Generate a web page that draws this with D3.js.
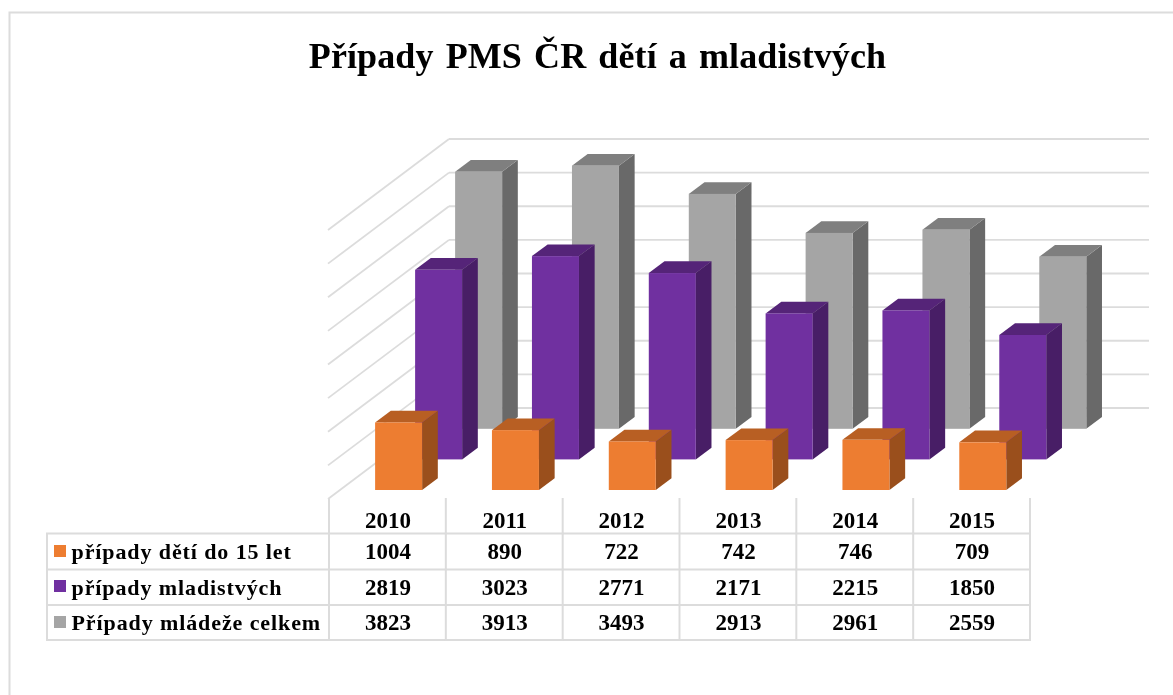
<!DOCTYPE html>
<html><head><meta charset="utf-8">
<script src="https://cdn.jsdelivr.net/npm/d3@7/dist/d3.min.js"></script>
<style>html,body{margin:0;padding:0;background:#fff}svg{display:block;filter:blur(0.4px)}</style>
</head><body><svg id="c" width="1173" height="695"></svg>
<script>
const years = ["2010","2011","2012","2013","2014","2015"];
const seriesNames = ["případy dětí do 15 let","případy mladistvých","Případy mládeže celkem"];
const children = [1004,890,722,742,746,709];
const juveniles = [2819,3023,2771,2171,2215,1850];
const total = [3823,3913,3493,2913,2961,2559];
const title = "Případy PMS ČR dětí a mladistvých";
const yTicks = [0,500,1000,1500,2000,2500,3000,3500,4000];

const FONT = "'Liberation Serif','Times New Roman',serif";
const GRID = "#dcdcdc";
const svg = d3.select("#c");
const rows = [
  {name:seriesNames[0],values:children,depth:0,face:"#ed7d31",side:"#9a4f1c",top:"#b85f23"},
  {name:seriesNames[1],values:juveniles,depth:1,face:"#7030a0",side:"#481e66",top:"#552478"},
  {name:seriesNames[2],values:total,depth:2,face:"#a5a5a5",side:"#696969",top:"#7f7f7f"}
];

// frame
svg.append("path").attr("d","M9.5,695V12.5H1173").attr("fill","none").attr("stroke",GRID).attr("stroke-width",2);

// scales
const x = d3.scaleBand().domain(years).range([329,1030]).paddingInner(0).paddingOuter(0);
const y = d3.scaleLinear().domain([0,4000]).range([0,-269]);
const barW = 47, barOff = (x.bandwidth()-barW)/2 + 11.2;
const wallDx = 120, wallDy = -91;      // floor depth, front to back
const serDx = 40, serDy = -30.6;       // step between series
const sideDx = 15.7, sideDy = -11.7;   // bar depth
const floorY = 499;

// walls
const g = svg.append("g");
g.selectAll("line.back").data(yTicks).join("line")
  .attr("x1",329+wallDx).attr("x2",1149)
  .attr("y1",d=>floorY+wallDy+y(d)).attr("y2",d=>floorY+wallDy+y(d))
  .attr("stroke",GRID).attr("stroke-width",1.8);
g.selectAll("line.left").data(yTicks).join("line")
  .attr("x1",329+wallDx).attr("x2",328)
  .attr("y1",d=>floorY+wallDy+y(d)).attr("y2",d=>floorY+y(d))
  .attr("stroke",GRID).attr("stroke-width",1.8);

// bars
const base0 = 490;
[...rows].reverse().forEach(s=>{
  const ox = s.depth*serDx, oy = s.depth*serDy;
  const b = g.append("g").selectAll("g").data(years.map((yr,i)=>({yr,v:s.values[i]}))).join("g");
  const L = d=>x(d.yr)+barOff+ox, R = d=>L(d)+barW, B = base0+oy, T = d=>B+y(d.v);
  b.append("path").attr("fill",s.side).attr("d",d=>`M${R(d)},${B}L${R(d)+sideDx},${B+sideDy}V${T(d)+sideDy}L${R(d)},${T(d)}Z`);
  b.append("path").attr("fill",s.top).attr("d",d=>`M${L(d)},${T(d)}L${L(d)+sideDx},${T(d)+sideDy}H${R(d)+sideDx}L${R(d)},${T(d)}Z`);
  b.append("rect").attr("fill",s.face).attr("x",L).attr("y",T).attr("width",barW).attr("height",d=>B-T(d));
});

// data table
const rowY = [533.5,569.5,605,640];
const tl = svg.append("g").attr("stroke",GRID).attr("stroke-width",2);
rowY.forEach(v=>tl.append("line").attr("x1",46).attr("x2",1031).attr("y1",v).attr("y2",v));
tl.append("line").attr("x1",47).attr("x2",47).attr("y1",533).attr("y2",641);
[...years.map(d=>x(d)),1030].forEach(v=>tl.append("line").attr("x1",v).attr("x2",v).attr("y1",498).attr("y2",641));

const txt = (px,py,s,anchor="middle",fs=23)=>svg.append("text").attr("x",px).attr("y",py).attr("text-anchor",anchor)
  .attr("font-family",FONT).attr("font-weight","bold").attr("font-size",fs).attr("fill","#000").text(s);
years.forEach(d=>txt(x(d)+x.bandwidth()/2+0.5,528,d));
rows.forEach((s,r)=>{
  const by = [558.5,594.5,630][r];
  svg.append("rect").attr("x",54).attr("y",[545,580,616][r]).attr("width",12).attr("height",12).attr("fill",s.face);
  txt(71.5,by,s.name,"start",22).attr("letter-spacing",0.9);
  years.forEach((d,i)=>txt(x(d)+x.bandwidth()/2+0.5,by,String(s.values[i])));
});

// title
svg.append("text").attr("x",597.5).attr("y",68).attr("text-anchor","middle")
  .attr("font-family",FONT).attr("font-weight","bold").attr("font-size",36).attr("word-spacing",3).attr("letter-spacing",0.1).attr("fill","#000").text(title);
</script></body></html>
